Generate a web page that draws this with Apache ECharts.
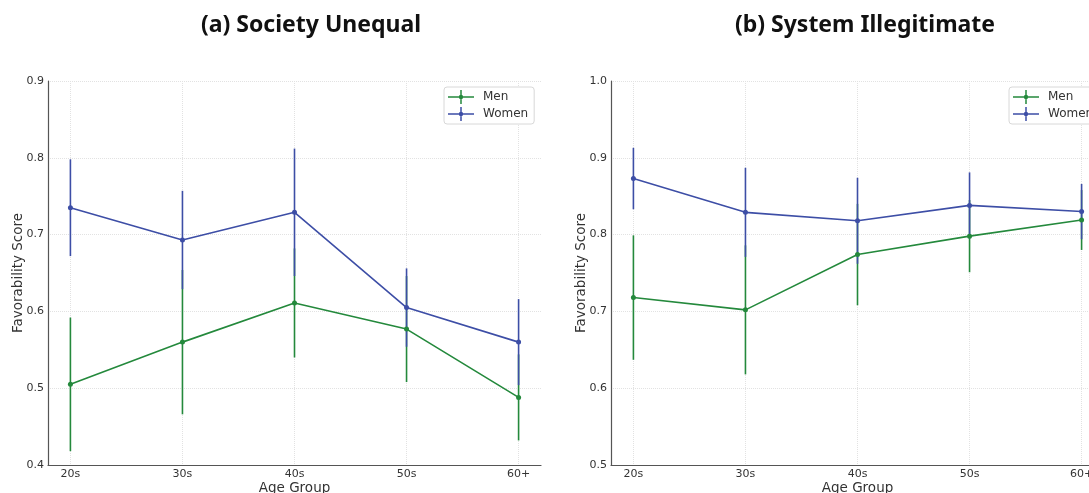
<!DOCTYPE html>
<html>
<head>
<meta charset="utf-8">
<script src="https://cdn.jsdelivr.net/npm/echarts@6/dist/echarts.min.js"></script>
<style>html,body{margin:0;padding:0;background:#fff;}#c{width:1089px;height:493px;}</style>
</head>
<body>
<div id="c"></div>
<script>
const categories = ['20s', '30s', '40s', '50s', '60+'];
const yTicksA = [0.4, 0.5, 0.6, 0.7, 0.8, 0.9];
const yTicksB = [0.5, 0.6, 0.7, 0.8, 0.9, 1.0];

// (a) Society Unequal
const menA = [0.505, 0.560, 0.611, 0.577, 0.488];
const menAErr = [0.087, 0.094, 0.071, 0.069, 0.056];
const womenA = [0.735, 0.693, 0.729, 0.605, 0.560];
const womenAErr = [0.063, 0.064, 0.083, 0.051, 0.056];

// (b) System Illegitimate
const menB = [0.718, 0.702, 0.774, 0.798, 0.819];
const menBErr = [0.081, 0.084, 0.066, 0.047, 0.039];
const womenB = [0.873, 0.829, 0.818, 0.838, 0.830];
const womenBErr = [0.040, 0.058, 0.056, 0.043, 0.036];

const GREEN = '#24893c';
const BLUE = '#3d4ea6';
const TXT = '#333';
const FONT = 'DejaVu Sans';

const chart = echarts.init(document.getElementById('c'), null, {renderer: 'canvas'});

function lineData(vals) { return vals.map((v, i) => [i, v]); }
function errData(vals, errs) { return vals.map((v, i) => [i, v - errs[i], v + errs[i]]); }

function errSeries(name, vals, errs, color, idx, z) {
  return {
    name: name, type: 'custom', xAxisIndex: idx, yAxisIndex: idx, z: z,
    data: errData(vals, errs), itemStyle: {color: color},
    encode: {x: 0, y: [1, 2]},
    renderItem: function (params, api) {
      const x = api.value(0);
      const p1 = api.coord([x, api.value(1)]);
      const p2 = api.coord([x, api.value(2)]);
      return {type: 'line', shape: {x1: p1[0], y1: p1[1], x2: p2[0], y2: p2[1]},
        style: {stroke: color, lineWidth: 1.6}};
    }
  };
}
function lineSeries(name, vals, color, idx, z) {
  return {
    name: name, type: 'line', xAxisIndex: idx, yAxisIndex: idx, z: z,
    data: lineData(vals), symbol: 'circle', symbolSize: 5,
    lineStyle: {color: color, width: 1.6}, itemStyle: {color: color},
    emphasis: {disabled: true}, animation: false
  };
}

const catIdx = categories.map((c, i) => i);

function xAxis(idx) {
  return {
    type: 'value', gridIndex: idx, min: -0.2, max: 4.2,
    name: 'Age Group', nameLocation: 'middle', nameGap: 16, nameMoveOverlap: false,
    nameTextStyle: {fontFamily: FONT, fontSize: 13.5, color: TXT, verticalAlign: 'top'},
    axisLine: {show: true, onZero: false, lineStyle: {color: '#555', width: 1.2}},
    axisTick: {show: false, customValues: catIdx},
    axisLabel: {customValues: catIdx, formatter: v => categories[Math.round(v)], fontFamily: FONT, fontSize: 11, color: TXT, margin: 4},
    splitLine: {show: true, lineStyle: {color: '#e2e2e2', type: 'dotted', width: 1}}
  };
}
function yAxis(idx, ticks) {
  return {
    type: 'value', gridIndex: idx, min: ticks[0], max: ticks[ticks.length - 1], interval: 0.1,
    name: 'Favorability Score', nameLocation: 'middle', nameGap: 23, nameMoveOverlap: false,
    nameTextStyle: {fontFamily: FONT, fontSize: 13.5, color: TXT},
    axisLine: {show: true, onZero: false, lineStyle: {color: '#555', width: 1.2}},
    axisTick: {show: false},
    axisLabel: {formatter: v => v.toFixed(1), fontFamily: FONT, fontSize: 11, color: TXT, margin: 4},
    splitLine: {show: true, lineStyle: {color: '#e2e2e2', type: 'dotted', width: 1}}
  };
}

const icon = 'path://M0,6.25h26v1.5h-26z M12.25,0h1.5v14h-1.5z M15.2,7a2.2,2.2 0 1,1 -4.4,0a2.2,2.2 0 1,1 4.4,0z';

function legend(left) {
  return {
    left: left, top: 87, orient: 'vertical',
    data: [{name: 'Men', icon: icon, itemStyle: {color: GREEN}}, {name: 'Women', icon: icon, itemStyle: {color: BLUE}}],
    itemWidth: 26, itemHeight: 14, itemGap: 3,
    textStyle: {fontFamily: FONT, fontSize: 12, color: TXT, padding: [0, 0, 0, 4]},
    borderColor: '#d8d8d8', borderWidth: 1, borderRadius: 3,
    backgroundColor: '#fff', padding: [3, 6, 3, 4], selectedMode: false
  };
}

chart.setOption({
  animation: false,
  backgroundColor: '#fff',
  title: [
    {text: '(a) Society Unequal', left: 306, top: 9, textAlign: 'center',
      textStyle: {fontFamily: 'Noto Sans', fontWeight: 'bold', fontSize: 23, color: '#111'}},
    {text: '(b) System Illegitimate', left: 860, top: 9, textAlign: 'center',
      textStyle: {fontFamily: 'Noto Sans', fontWeight: 'bold', fontSize: 23, color: '#111'}}
  ],
  legend: [legend(444), legend(1009)],
  grid: [
    {left: 48, top: 81, width: 493, height: 384, containLabel: false, outerBoundsMode: 'none'},
    {left: 611, top: 81, width: 493, height: 384, containLabel: false, outerBoundsMode: 'none'}
  ],
  xAxis: [xAxis(0), xAxis(1)],
  yAxis: [yAxis(0, yTicksA), yAxis(1, yTicksB)],
  series: [
    errSeries('Men', menA, menAErr, GREEN, 0, 2),
    errSeries('Women', womenA, womenAErr, BLUE, 0, 3),
    lineSeries('Men', menA, GREEN, 0, 4),
    lineSeries('Women', womenA, BLUE, 0, 5),
    errSeries('Men', menB, menBErr, GREEN, 1, 2),
    errSeries('Women', womenB, womenBErr, BLUE, 1, 3),
    lineSeries('Men', menB, GREEN, 1, 4),
    lineSeries('Women', womenB, BLUE, 1, 5)
  ]
});
</script>
</body>
</html>
